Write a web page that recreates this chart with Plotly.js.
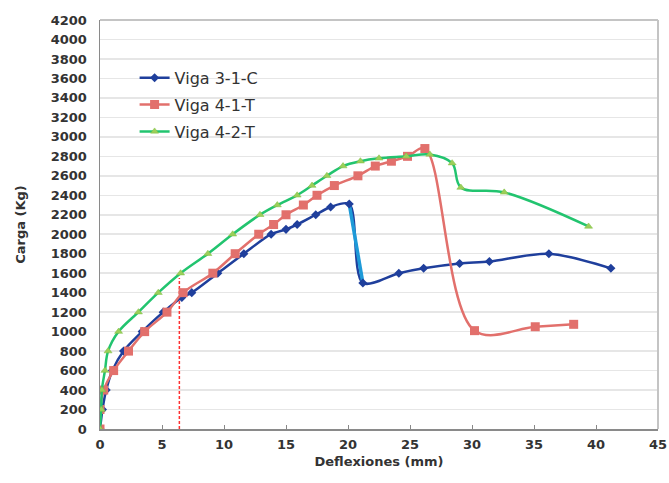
<!DOCTYPE html>
<html>
<head>
<meta charset="utf-8">
<script src="https://cdn.plot.ly/plotly-3.0.1.min.js"></script>
<style>html,body{margin:0;padding:0;background:#fff;}#chart{width:669px;height:483px;}</style>
</head>
<body>
<div id="chart"></div>
<script>
// Viga 3-1-C
const bX = [0, 0.2, 0.5, 1.0, 1.9, 3.4, 5.1, 6.6, 7.4, 9.5, 11.6, 13.8, 15.0, 15.9, 17.4, 18.6, 20.1, 21.2, 24.1, 26.1, 29.0, 31.4, 36.2, 41.2];
const bY = [0, 200, 400, 600, 800, 1000, 1200, 1350, 1400, 1600, 1800, 2000, 2050, 2100, 2200, 2280, 2310, 1500, 1600, 1650, 1700, 1720, 1800, 1650];
const bPeak = 16; // index of peak before failure drop
// Viga 4-1-T
const rX = [0, 0, 0.3, 1.1, 2.3, 3.6, 5.4, 6.7, 9.1, 10.9, 12.8, 14.0, 15.0, 16.4, 17.5, 18.9, 20.8, 22.2, 23.5, 24.8, 26.2, 30.2, 35.1, 38.2];
const rY = [0, 200, 400, 600, 800, 1000, 1200, 1400, 1600, 1800, 2000, 2100, 2200, 2300, 2400, 2500, 2600, 2700, 2750, 2800, 2880, 1010, 1050, 1075];
// Viga 4-2-T
const gX = [0, 0.1, 0.15, 0.4, 0.65, 1.5, 3.1, 4.7, 6.5, 8.7, 10.7, 12.9, 14.3, 15.9, 17.1, 18.3, 19.6, 21.0, 22.5, 24.7, 26.6, 28.4, 29.1, 32.6, 39.4];
const gY = [0, 200, 400, 600, 800, 1000, 1200, 1400, 1600, 1800, 2000, 2200, 2300, 2400, 2500, 2600, 2700, 2750, 2780, 2800, 2820, 2730, 2480, 2430, 2080];
// reference dashed line
const dX = [6.4, 6.4];
const dY = [0, 1550];

const names = ['Viga 3-1-C', 'Viga 4-1-T', 'Viga 4-2-T'];
const xTicks = [0, 5, 10, 15, 20, 25, 30, 35, 40, 45];

const cBlue = '#1f3f9c', cLight = '#1e9ad8', cRed = '#e2706c', cGreen = '#22c46f';
const FONT = 'DejaVu Sans, Verdana, sans-serif';

const traces = [
  {x: dX, y: dY, mode: 'lines', line: {color: '#ff3030', width: 1.5, dash: '3px,2px'}, showlegend: false, hoverinfo: 'skip'},
  {x: bX, y: bY, name: names[0], legendgroup: 'a', mode: 'lines',
   line: {color: cBlue, width: 2.5, shape: 'spline', smoothing: 0.85}, showlegend: false},
  {x: bX.slice(bPeak, bPeak + 2), y: bY.slice(bPeak, bPeak + 2), mode: 'lines', line: {color: cLight, width: 3.5}, showlegend: false},
  {x: bX, y: bY, name: names[0], legendgroup: 'a', mode: 'markers', showlegend: false,
   marker: {symbol: 'diamond', size: 7, color: cBlue}},
  {x: [null], y: [null], name: names[0], legendgroup: 'a', mode: 'lines+markers',
   line: {color: cBlue, width: 2.5}, marker: {symbol: 'diamond', size: 7, color: cBlue}},
  {x: rX, y: rY, name: names[1], legendgroup: 'b', mode: 'lines+markers',
   line: {color: cRed, width: 2.5, shape: 'spline', smoothing: 1}, marker: {symbol: 'square', size: 9, color: cRed}},
  {x: gX, y: gY, name: names[2], legendgroup: 'c', mode: 'lines+markers',
   line: {color: cGreen, width: 2.5, shape: 'spline', smoothing: 1},
   marker: {symbol: 'triangle-up', size: 7, color: '#9ccf5a', line: {color: '#7fbf40', width: 0.5}}}
];

const tickFont = {family: FONT, size: 13, color: '#333333', weight: 'bold'};

const layout = {
  width: 669, height: 483,
  margin: {l: 100, r: 11, t: 20, b: 54},
  paper_bgcolor: '#ffffff', plot_bgcolor: '#ffffff',
  showlegend: true,
  legend: {x: 0.062, y: 0.9, xanchor: 'left', yanchor: 'top', bgcolor: 'rgba(0,0,0,0)',
           font: {family: FONT, size: 16, color: '#333333'},
           tracegroupgap: 3},
  xaxis: {range: [0, 45], tickvals: xTicks, ticktext: xTicks.map(String), tickfont: tickFont,
          ticks: 'inside', ticklen: 4, tickcolor: '#888', showgrid: false, zeroline: false,
          ticklabelstandoff: 3,
          showline: true, linecolor: '#8a8a8a', linewidth: 1.5, mirror: false,
          title: {text: 'Deflexiones (mm)', font: {family: FONT, size: 13, color: '#333', weight: 'bold'}, standoff: 6}},
  yaxis: {range: [0, 4200], dtick: 200, tickfont: tickFont, ticks: '', showgrid: true,
          gridcolor: '#e6e6e6', gridwidth: 1.5, zeroline: false, ticklabelstandoff: 9,
          showline: true, linecolor: '#8a8a8a', linewidth: 1.5,
          title: {text: 'Carga (Kg)', font: {family: FONT, size: 13, color: '#333', weight: 'bold'}, standoff: 22}},
  shapes: [
    {type: 'line', xref: 'paper', yref: 'paper', x0: 0, x1: 1, y0: 1, y1: 1, line: {color: '#c4c4c4', width: 2}},
    {type: 'line', xref: 'paper', yref: 'paper', x0: 1, x1: 1, y0: 0, y1: 1, line: {color: '#c4c4c4', width: 2}}
  ]
};

Plotly.newPlot('chart', traces, layout, {staticPlot: true, displayModeBar: false});
</script>
</body>
</html>
